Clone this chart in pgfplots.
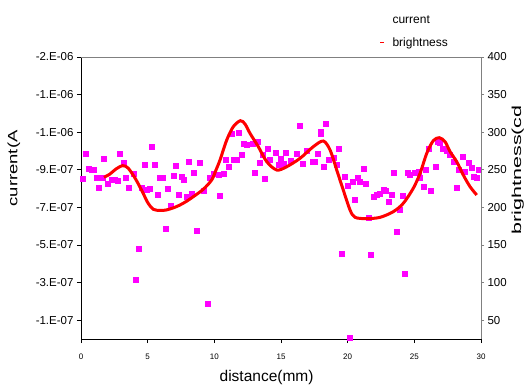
\documentclass[border=0pt]{standalone}
\usepackage{fontspec}
\setmainfont{Liberation Sans}
\usepackage{graphicx}
\usepackage{pgfplots}
\pgfplotsset{compat=1.18}
\definecolor{mag}{RGB}{255,0,255}
\definecolor{brt}{RGB}{255,0,0}
\definecolor{frame}{RGB}{128,128,128}

\pgfplotstableread{
x c
0.13 -8.51e-7
0.375 -9.88e-7
0.55 -9.08e-7
0.80 -8.99e-7
0.975 -8.99e-7
1.18 -8.58e-7
1.35 -8.07e-7
1.6 -8.60e-7
1.725 -9.57e-7
1.97 -8.28e-7
2.30 -8.49e-7
2.55 -8.46e-7
2.75 -8.42e-7
2.925 -9.84e-7
3.17 -9.40e-7
3.35 -8.60e-7
3.55 -8.03e-7
3.92 -8.78e-7
4.125 -3.14e-7
4.35 -4.81e-7
4.55 -8.07e-7
4.75 -9.29e-7
4.93 -7.93e-7
5.12 -7.98e-7
5.30 -1.023e-6
5.55 -9.29e-7
5.72 -7.68e-7
5.925 -8.58e-7
6.1 -8.58e-7
6.34 -5.85e-7
6.47 -7.98e-7
6.73 -7.09e-7
6.92 -8.67e-7
7.125 -9.20e-7
7.30 -7.68e-7
7.52 -8.63e-7
7.67 -8.46e-7
7.93 -7.57e-7
8.08 -9.41e-7
8.30 -7.75e-7
8.475 -8.85e-7
8.70 -5.77e-7
8.87 -9.38e-7
9.225 -7.87e-7
9.47 -1.88e-7
9.675 -8.58e-7
9.92 -8.81e-7
10.3 -8.72e-7
10.425 -7.62e-7
10.67 -8.78e-7
10.85 -9.52e-7
11.1 -9.16e-7
11.3 -1.094e-6
11.475 -9.56e-7
11.68 -9.52e-7
11.85 -1.099e-6
12.05 -9.79e-7
12.225 -1.039e-6
12.43 -1.032e-6
12.85 -1.041e-6
13.0 -8.83e-7
13.22 -1.048e-6
13.425 -9.38e-7
13.63 -9.79e-7
13.8 -8.53e-7
14.0 -1.011e-6
14.175 -9.52e-7
14.6 -9.93e-7
14.8 -9.29e-7
14.98 -9.57e-7
15.225 -9.31e-7
15.375 -9.93e-7
15.75 -9.48e-7
16.18 -9.84e-7
16.39 -1.136e-6
16.63 -9.35e-7
16.93 -1.002e-6
17.38 -9.43e-7
17.55 -9.43e-7
17.75 -9.88e-7
17.98 -1.105e-6
17.98 -1.090e-6
18.17 -9.16e-7
18.375 -1.147e-6
18.55 -9.52e-7
18.92 -9.66e-7
19.18 -9.26e-7
19.35 -1.011e-6
19.575 -4.56e-7
19.75 -8.63e-7
19.97 -8.18e-7
20.12 -5e-9
20.38 -8.39e-7
20.55 -7.39e-7
20.75 -8.60e-7
20.93 -8.39e-7
21.17 -9.08e-7
21.35 -8.28e-7
21.55 -6.47e-7
21.7 -4.51e-7
21.98 -7.57e-7
22.18 -7.66e-7
22.43 -7.75e-7
22.67 -7.93e-7
22.875 -7.89e-7
23.1 -7.30e-7
23.3 -7.66e-7
23.475 -8.87e-7
23.68 -5.69e-7
23.87 -6.86e-7
24.13 -7.61e-7
24.25 -3.46e-7
24.5 -8.85e-7
24.675 -8.72e-7
25.05 -8.87e-7
25.3 -8.90e-7
25.425 -8.60e-7
25.725 -8.10e-7
25.875 -9.03e-7
26.1 -1.014e-6
26.25 -7.89e-7
26.625 -9.16e-7
26.72 -1.049e-6
26.925 -1.044e-6
27.13 -1.014e-6
27.43 -1.002e-6
27.675 -9.79e-7
27.92 -9.43e-7
28.18 -8.07e-7
28.3 -8.99e-7
28.63 -9.70e-7
28.8 -8.90e-7
29.05 -9.38e-7
29.3 -9.11e-7
29.42 -8.63e-7
29.68 -8.60e-7
29.85 -9.03e-7
}\currenttable

\pgfplotstableread{
x b
1.725 240.0
2.175 244.4
2.625 251.1
3.13 255.5
3.525 252.4
4.05 239.1
4.575 221.8
5.025 205.8
5.42 197.5
5.925 195.9
6.375 196.5
6.9 199.2
7.425 203.2
7.95 208.5
8.42 214.2
9.17 224.1
9.8 236.4
10.125 249.7
10.425 263.0
10.93 289.6
11.42 307.3
11.95 315.3
12.3 310.9
12.675 298.5
13.3 280.7
13.93 260.8
14.68 249.7
15.43 254.1
16.43 265.3
17.42 280.7
18.17 288.3
18.68 276.3
19.18 249.7
19.67 223.1
20.18 196.5
20.55 186.8
21.43 185.0
22.43 186.8
23.42 194.3
24.17 205.4
24.92 225.4
25.43 245.3
25.93 271.9
26.42 288.7
26.87 292.7
27.3 287.4
27.68 274.1
28.18 260.8
28.67 243.1
29.18 227.5
29.68 216.5
}\brighttable

\begin{document}
\begin{tikzpicture}
\path[use as bounding box] (-81pt,-46pt) rectangle (448pt,339pt);
\begin{axis}[
  scale only axis, width=400pt, height=282pt,
  at={(0pt,0pt)}, anchor=south west,
  xmin=0, xmax=30, ymin=-1.5e-6, ymax=0, y dir=reverse,
  axis x line*=bottom, axis y line*=left,
  xtick={0,5,10,15,20,25,30},
  ytick={-1.5e-6,-1.3e-6,-1.1e-6,-9e-7,-7e-7,-5e-7,-3e-7,-1e-7},
  yticklabels={-2.E-06,-1.E-06,-1.E-06,-9.E-07,-7.E-07,-5.E-07,-3.E-07,-1.E-07},
  scaled y ticks=false, scaled x ticks=false,
  tick align=outside, major tick length=4pt,
  /pgf/number format/assume math mode=true,
  x tick label style={font=\fontsize{8}{9}\selectfont, yshift=-7pt},
  y tick label style={font=\fontsize{11.5}{13}\selectfont},
  axis line style={black, line width=0.8pt},
  tick style={black, line width=0.8pt},
  xlabel={distance(mm)},
  ylabel={\scalebox{1.37}[1]{current(A}},
  every axis x label/.style={at={(axis description cs:0.464,-0.138)}, anchor=center, font=\fontsize{15.5}{17}\selectfont},
  every axis y label/.style={at={(axis description cs:-0.1675,0.605)}, anchor=center, rotate=90, font=\fontsize{13.5}{15}\selectfont},
  clip=false,
]
\addplot[only marks, mark=square*, mark size=2.5pt, color=mag] table[x=x, y=c] {\currenttable};
\end{axis}
\begin{axis}[
  scale only axis, width=400pt, height=282pt,
  at={(0pt,0pt)}, anchor=south west,
  xmin=0, xmax=30, ymin=25, ymax=400,
  axis x line*=top, axis y line*=right,
  xtick=\empty,
  ytick={50,100,150,200,250,300,350,400},
  tick align=outside, major tick length=3pt,
  /pgf/number format/assume math mode=true,
  y tick label style={font=\fontsize{11.5}{13}\selectfont},
  axis line style={frame, line width=0.8pt},
  tick style={frame, line width=0.8pt},
  ylabel={\scalebox{1.65}[1]{brightness(cd}},
  every axis y label/.style={at={(axis description cs:1.092,0.6)}, anchor=center, rotate=90, font=\fontsize{13}{15}\selectfont},
  legend style={draw=none, fill=none, at={(axis description cs:0.746,1.025)}, anchor=south west, inner sep=0pt, row sep=9pt, font=\fontsize{12}{14}\selectfont, cells={anchor=west}, /tikz/every odd column/.append style={column sep=6pt}},
  clip=false,
]
\addlegendimage{empty legend}
\addlegendentry{current}
\addplot[brt, line width=3pt, smooth, legend image code/.code={\draw[brt, line width=1.4pt] (0pt,0pt) -- (3.5pt,0pt);}] table[x=x, y=b] {\brighttable};
\addlegendentry{brightness}
\end{axis}
\end{tikzpicture}
\end{document}
